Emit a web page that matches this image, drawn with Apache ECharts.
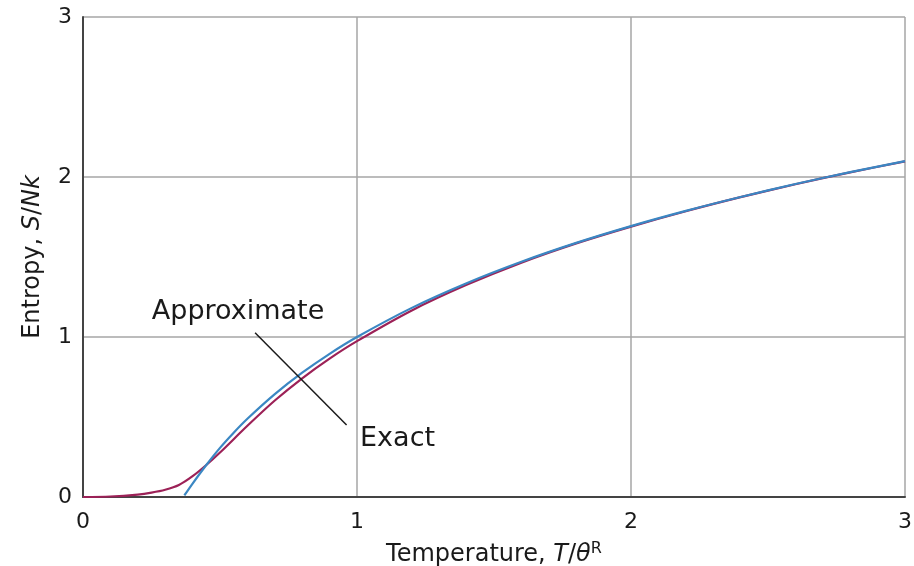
<!DOCTYPE html>
<html><head><meta charset="utf-8">
<script src="https://cdn.jsdelivr.net/npm/echarts@6/dist/echarts.min.js"></script>
<style>html,body{margin:0;padding:0;background:#fff}#c{width:914px;height:566px}</style>
</head><body><div id="c"></div>
<script>
// Temperature T/θR and entropy S/Nk
const exactT = [0.0, 0.1, 0.2, 0.25, 0.3, 0.35, 0.4, 0.45, 0.5, 0.6, 0.7, 0.8, 0.9, 1.0, 1.2, 1.4, 1.6, 1.8, 2.0, 2.2, 2.4, 2.6, 2.8, 3.0];
const exactS = [0.0, 0.003, 0.015, 0.027, 0.045, 0.075, 0.13, 0.2, 0.278, 0.445, 0.603, 0.742, 0.865, 0.974, 1.166, 1.326, 1.465, 1.585, 1.69, 1.786, 1.874, 1.955, 2.029, 2.098];
const approxT = [0.37, 0.4, 0.45, 0.5, 0.55, 0.6, 0.7, 0.8, 0.9, 1.0, 1.2, 1.4, 1.6, 1.8, 2.0, 2.2, 2.4, 2.6, 2.8, 3.0];
const approxS = [0.01, 0.084, 0.2, 0.307, 0.402, 0.489, 0.643, 0.777, 0.895, 1.0, 1.182, 1.336, 1.47, 1.588, 1.693, 1.788, 1.875, 1.956, 2.03, 2.099];
const xTicks = [0, 1, 2, 3];
const yTicks = [0, 1, 2, 3];
const labelNames = ['Approximate', 'Exact'];
const labelX = [0.566, 1.148];
const labelY = [1.159, 0.3625];
const leaderX = [0.628, 0.962];
const leaderY = [1.027, 0.45];

const zip = (a, b) => a.map((v, i) => [v, b[i]]);
const FONT = 'DejaVu Sans';
const chart = echarts.init(document.getElementById('c'), null, {renderer: 'canvas'});
chart.setOption({
  animation: false,
  backgroundColor: '#fff',
  grid: {left: 83, right: 9, top: 17, bottom: 69, containLabel: false, outerBoundsMode: 'none'},
  xAxis: {
    type: 'value', min: xTicks[0], max: xTicks[xTicks.length - 1], interval: 1,
    axisLine: {show: true, lineStyle: {color: '#444', width: 2}},
    axisTick: {show: false},
    axisLabel: {color: '#1a1a1a', fontSize: 22, fontFamily: FONT, margin: 14},
    splitLine: {show: true, lineStyle: {color: '#a6a6a6', width: 1.5}},
    name: '{n|Temperature, }{i|T}{n|/}{i|θ}{s|R}',
    nameLocation: 'middle', nameGap: 44,
    nameTextStyle: {
      fontFamily: FONT, fontSize: 24, color: '#1a1a1a',
      rich: {
        n: {fontFamily: FONT, fontSize: 24, color: '#1a1a1a', lineHeight: 28},
        i: {fontFamily: FONT, fontSize: 24, fontStyle: 'italic', color: '#1a1a1a', lineHeight: 28},
        s: {fontFamily: FONT, fontSize: 16, color: '#1a1a1a', verticalAlign: 'top', lineHeight: 18}
      }
    }
  },
  yAxis: {
    type: 'value', min: yTicks[0], max: yTicks[yTicks.length - 1], interval: 1,
    axisLine: {show: true, lineStyle: {color: '#444', width: 2}},
    axisTick: {show: false},
    axisLabel: {color: '#1a1a1a', fontSize: 22, fontFamily: FONT, margin: 11},
    splitLine: {show: true, lineStyle: {color: '#a6a6a6', width: 1.5}},
    name: '{n|Entropy, }{i|S}{n|/}{i|Nk}',
    nameLocation: 'middle', nameGap: 38,
    nameTextStyle: {
      fontFamily: FONT, fontSize: 24, color: '#1a1a1a',
      rich: {
        n: {fontFamily: FONT, fontSize: 24, color: '#1a1a1a'},
        i: {fontFamily: FONT, fontSize: 24, fontStyle: 'italic', color: '#1a1a1a'}
      }
    }
  },
  series: [
    {
      name: 'Exact', type: 'line', data: zip(exactT, exactS), smooth: 0.3,
      showSymbol: false, lineStyle: {color: '#9c2157', width: 2.2}, z: 3
    },
    {
      name: 'Approximate', type: 'line', data: zip(approxT, approxS), smooth: 0.3,
      showSymbol: false, lineStyle: {color: '#3b87c3', width: 2.2}, z: 4
    },
    {
      name: 'leader', type: 'line', data: zip(leaderX, leaderY),
      showSymbol: false, lineStyle: {color: '#1a1a1a', width: 1.5}, z: 5
    },
    {
      name: 'labels', type: 'scatter', symbolSize: 1,
      itemStyle: {color: 'rgba(0,0,0,0)', opacity: 1},
      data: labelNames.map((n, i) => ({value: [labelX[i], labelY[i]], name: n})),
      label: {show: true, position: 'inside', formatter: p => p.name, opacity: 1,
        fontFamily: FONT, fontSize: 27, color: '#1a1a1a'},
      emphasis: {disabled: true},
      z: 6
    }
  ]
});
</script></body></html>
